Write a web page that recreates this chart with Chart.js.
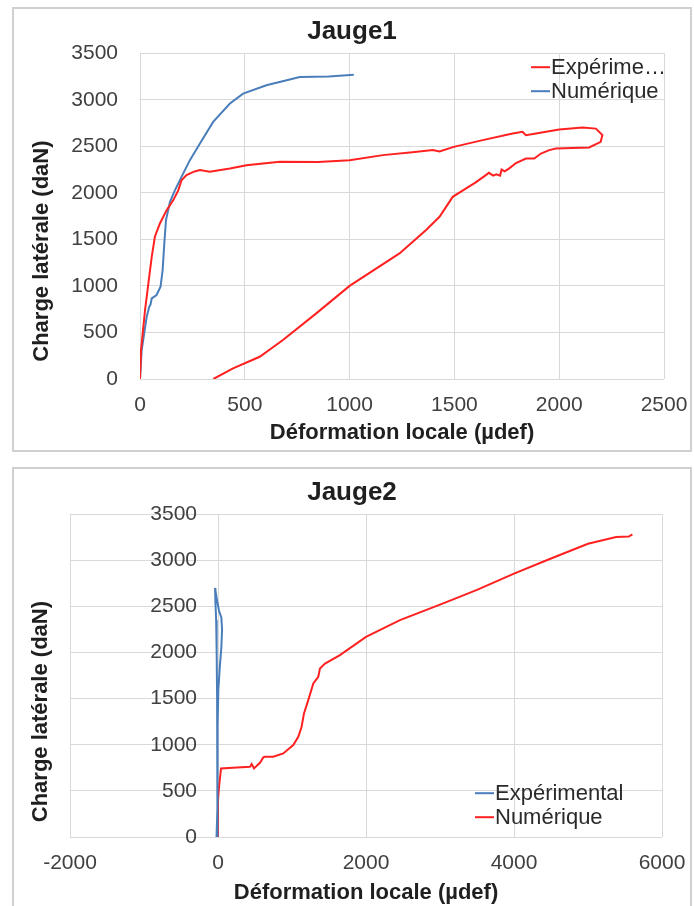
<!DOCTYPE html>
<html>
<head>
<meta charset="utf-8">
<script src="https://cdn.jsdelivr.net/npm/chart.js@4.4.1/dist/chart.umd.min.js"></script>
<style>
  html, body { margin: 0; padding: 0; background: #ffffff; overflow: hidden; width: 694px; height: 906px; }
  .box { position: absolute; box-sizing: border-box; border: 2px solid #d0d0d0; }
  canvas { position: absolute; }
</style>
</head>
<body>
<div class="box" style="left:12px; top:7px; width:680px; height:445px;"></div>
<canvas id="c1" width="678" height="444" style="left:13px; top:7px;"></canvas>
<div class="box" style="left:12px; top:467px; width:680px; height:460px;"></div>
<canvas id="c2" width="678" height="438" style="left:13px; top:468px;"></canvas>
<script>
// ---------- DATA ----------
// Jauge1
const j1Title = 'Jauge1';
const j1LegendLabels = ['Expérime…', 'Numérique'];
const j1XTicks = [0, 500, 1000, 1500, 2000, 2500];
const j1YTicks = [0, 500, 1000, 1500, 2000, 2500, 3000, 3500];
const j1ExpX = [0, 5, 24, 40, 56, 71, 95, 127, 159, 183, 198, 222, 260, 286, 333, 429, 508, 667, 850, 1000, 1159, 1300, 1397, 1429, 1497, 1635, 1778, 1825, 1841, 1889, 2000, 2111, 2175, 2206, 2198, 2143, 1984, 1952, 1913, 1881, 1841, 1794, 1760, 1740, 1725, 1718, 1700, 1685, 1665, 1650, 1600, 1556, 1492, 1429, 1365, 1238, 1000, 841, 682, 571, 444, 350];
const j1ExpY = [0, 311, 741, 1027, 1313, 1528, 1671, 1814, 1922, 2029, 2136, 2190, 2230, 2244, 2226, 2261, 2297, 2333, 2330, 2351, 2405, 2435, 2459, 2445, 2494, 2566, 2638, 2656, 2620, 2638, 2680, 2701, 2690, 2620, 2548, 2487, 2476, 2459, 2422, 2369, 2369, 2320, 2260, 2230, 2250, 2185, 2200, 2185, 2215, 2190, 2110, 2047, 1957, 1743, 1600, 1349, 1000, 705, 419, 239, 115, 0];
const j1NumX = [0, 8, 32, 44, 50, 56, 79, 98, 108, 116, 124, 143, 167, 198, 238, 286, 349, 429, 492, 603, 700, 762, 900, 1020];
const j1NumY = [0, 311, 669, 776, 800, 866, 902, 991, 1170, 1457, 1707, 1904, 2029, 2172, 2351, 2530, 2762, 2960, 3066, 3156, 3210, 3245, 3250, 3268];

// Jauge2
const j2Title = 'Jauge2';
const j2LegendLabels = ['Expérimental', 'Numérique'];
const j2XTicks = [-2000, 0, 2000, 4000, 6000];
const j2YTicks = [0, 500, 1000, 1500, 2000, 2500, 3000, 3500];
const j2ExpX = [-20, -5, -8, -5, 5, 25, 45, 55, 45, 15, -10, -40, -35, -25, -18, -12, -10, -8, -6, -5];
const j2ExpY = [0, 400, 800, 1200, 1600, 1850, 2050, 2250, 2380, 2450, 2550, 2700, 2550, 2350, 2000, 1500, 1000, 600, 300, 0];
const j2NumX = [0, 0, 14, 41, 200, 432, 455, 486, 567, 612, 635, 747, 882, 1017, 1085, 1130, 1162, 1220, 1288, 1355, 1378, 1446, 1648, 2000, 2459, 3000, 3500, 4000, 4500, 5000, 5380, 5550, 5600];
const j2NumY = [0, 400, 545, 744, 750, 762, 791, 744, 805, 863, 870, 870, 906, 997, 1087, 1195, 1340, 1484, 1665, 1737, 1828, 1880, 1972, 2170, 2351, 2520, 2680, 2855, 3020, 3180, 3252, 3258, 3280];

const xTitle = 'Déformation locale (µdef)';
const yTitle = 'Charge latérale (daN)';

// ---------- STYLE ----------
const FAM = '"Liberation Sans", Arial, Helvetica, sans-serif';
const RED = '#ff2020';
const BLUE = '#4a7ebb';
const GRID = '#d9d9d9';
const TICK = '#404040';
const TXT = '#1f1f1f';

function pts(xs, ys) { return xs.map((x, i) => ({x: x, y: ys[i]})); }
function ds(label, xs, ys, color) {
  return { label: label, data: pts(xs, ys), borderColor: color, backgroundColor: color,
           showLine: true, pointRadius: 0, borderWidth: 2, tension: 0, fill: false };
}

// legend drawn inside the plot area, Excel-style
const inLegend = {
  id: 'inLegend',
  afterDraw(chart, args, opts) {
    const {ctx, chartArea} = chart;
    ctx.save();
    ctx.font = '22px ' + FAM;
    ctx.textBaseline = 'middle';
    ctx.textAlign = 'left';
    opts.labels.forEach((txt, i) => {
      const dsi = chart.data.datasets[opts.order[i]];
      const y = chartArea.top + opts.dy + i * opts.gap;
      const x = chartArea.left + opts.dx;
      ctx.strokeStyle = dsi.borderColor;
      ctx.lineWidth = 2;
      ctx.beginPath(); ctx.moveTo(x, y); ctx.lineTo(x + 19, y); ctx.stroke();
      ctx.fillStyle = '#2a2a2a';
      ctx.fillText(txt, x + 20, y + 1);
    });
    ctx.restore();
  }
};

// places the y-axis title box (Excel puts it lower than the plot centre) and
// moves the labels of an axis crossing at x=0 away from that axis line
const axisTweak = {
  id: 'axisTweak',
  beforeDraw(chart, args, opts) {
    const ca = chart.chartArea;
    const t = chart.scales.yT;
    if (t) {
      const c = (ca.top + ca.bottom) / 2 + opts.titleShift;
      const half = (ca.bottom - ca.top) / 2;
      t.left = 0; t.right = ca.left;
      t.top = c - half; t.bottom = c + half;
    }
    if (opts.labelShift) {
      const items = chart.scales.y.getLabelItems();
      items.forEach(it => {
        if (!it._moved) { it.options.translation[0] -= opts.labelShift; it._moved = true; }
      });
    }
  }
};

const tickFont = {family: FAM, size: 21};
const titleFont = {family: FAM, size: 22, weight: 'bold'};
const strTick = v => String(v);
function fixedTicks(arr) { return function(scale) { scale.ticks = arr.map(v => ({value: v})); }; }

function titleAxis(padTop) {
  return {
    type: 'linear', position: 'left', weight: 10, min: 0, max: 1,
    ticks: { display: false }, grid: { display: false, drawTicks: false }, border: { display: false },
    title: { display: true, text: yTitle, color: TXT, font: titleFont, padding: {top: padTop, bottom: 0} },
    afterFit: s => { s.width = 0; }
  };
}
function xAxis(ticksArr, h, titlePadBottom) {
  return {
    type: 'linear', position: 'bottom', min: ticksArr[0], max: ticksArr[ticksArr.length - 1],
    afterBuildTicks: fixedTicks(ticksArr),
    ticks: { padding: 0, font: tickFont, color: TICK, callback: strTick, maxRotation: 0, autoSkip: false },
    grid: { color: GRID, lineWidth: 1, drawTicks: true, tickLength: 14, tickColor: 'rgba(0,0,0,0)' },
    border: { display: false },
    title: { display: true, text: xTitle, color: TXT, font: titleFont, padding: {top: 0, bottom: titlePadBottom} },
    afterFit: s => { s.height = h; }
  };
}

// ---------- CHART 1 ----------
new Chart(document.getElementById('c1'), {
  type: 'scatter',
  data: { datasets: [ ds('Expérimental', j1ExpX, j1ExpY, RED), ds('Numérique', j1NumX, j1NumY, BLUE) ] },
  options: {
    responsive: false, animation: false, devicePixelRatio: 1,
    layout: { padding: { left: 27, right: 27, top: 0, bottom: 0 } },
    plugins: {
      legend: { display: false }, tooltip: { enabled: false },
      title: { display: true, text: j1Title, color: TXT, font: {family: FAM, size: 26, weight: 'bold'}, padding: {top: 9, bottom: 6} },
      inLegend: { labels: j1LegendLabels, order: [0, 1], dx: 391, dy: 14, gap: 24 },
      axisTweak: { titleShift: 35, labelShift: 0 }
    },
    scales: {
      x: xAxis(j1XTicks, 72, 5),
      y: {
        type: 'linear', position: 'left', weight: 0, min: j1YTicks[0], max: j1YTicks[j1YTicks.length - 1],
        afterBuildTicks: fixedTicks(j1YTicks),
        ticks: { padding: 22, font: tickFont, color: TICK, callback: strTick, autoSkip: false },
        grid: { color: GRID, lineWidth: 1, drawTicks: false }, border: { display: false },
        title: { display: false },
        afterFit: s => { s.width = 100; }
      },
      yT: titleAxis(16)
    }
  },
  plugins: [inLegend, axisTweak]
});

// ---------- CHART 2 ----------
new Chart(document.getElementById('c2'), {
  type: 'scatter',
  data: { datasets: [ ds('Expérimental', j2ExpX, j2ExpY, BLUE), ds('Numérique', j2NumX, j2NumY, RED) ] },
  options: {
    responsive: false, animation: false, devicePixelRatio: 1,
    layout: { padding: { left: 29, right: 29, top: 0, bottom: 0 } },
    plugins: {
      legend: { display: false }, tooltip: { enabled: false },
      title: { display: true, text: j2Title, color: TXT, font: {family: FAM, size: 26, weight: 'bold'}, padding: {top: 9, bottom: 6} },
      inLegend: { labels: j2LegendLabels, order: [0, 1], dx: 405, dy: 279, gap: 24 },
      axisTweak: { titleShift: 36, labelShift: 21 }
    },
    scales: {
      x: xAxis(j2XTicks, 69, 0),
      y: {
        type: 'linear', position: { x: 0 }, min: j2YTicks[0], max: j2YTicks[j2YTicks.length - 1],
        afterBuildTicks: fixedTicks(j2YTicks),
        ticks: { padding: 0, font: tickFont, color: TICK, callback: strTick, autoSkip: false },
        grid: { color: GRID, lineWidth: 1, drawTicks: false }, border: { display: false },
        title: { display: false }
      },
      yT: Object.assign(titleAxis(15), { afterFit: s => { s.width = 28; } })
    }
  },
  plugins: [inLegend, axisTweak]
});
</script>
</body>
</html>
